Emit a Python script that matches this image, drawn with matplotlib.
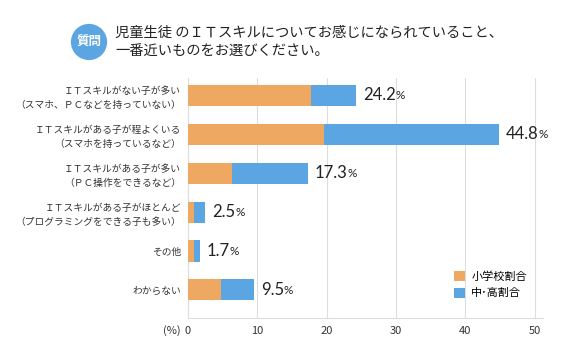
import matplotlib
matplotlib.use("Agg")
import matplotlib.pyplot as plt
import numpy as np

plt.rcParams['font.family'] = ['Noto Sans CJK JP', 'DejaVu Sans']

# データ
categories = [
    "ＩＴスキルがない子が多い\n（スマホ、ＰＣなどを持っていない）",
    "ＩＴスキルがある子が程よくいる\n（スマホを持っているなど）",
    "ＩＴスキルがある子が多い\n（ＰＣ操作をできるなど）",
    "ＩＴスキルがある子がほとんど\n（プログラミングをできる子も多い）",
    "その他",
    "わからない",
]
elementary = [17.7, 19.6, 6.3, 0.9, 0.8, 4.7]
middle_high = [6.5, 25.2, 11.0, 1.6, 0.9, 4.8]
totals = ["24.2", "44.8", "17.3", "2.5", "1.7", "9.5"]
series_names = ["小学校割合", "中･高割合"]

ORANGE = "#EFA862"
BLUE = "#5BA6E2"

fig = plt.figure(figsize=(5.7, 3.58), dpi=100)
ax = fig.add_axes([188/570, 1-318/358, (543-188)/570, (318-78)/358])

y = np.arange(len(categories))
ax.barh(y, elementary, height=0.54, color=ORANGE, label=series_names[0], zorder=3)
ax.barh(y, middle_high, left=elementary, height=0.54, color=BLUE, label=series_names[1], zorder=3)

for i in range(len(categories)):
    end = elementary[i] + middle_high[i]
    t = ax.annotate(totals[i], xy=(end, i), xytext=(5, 0), textcoords="offset points",
                    va="center", ha="left", fontsize=12, family="Lato", color="#222222")
    ax.annotate("%", xy=(1, 0.12), xycoords=t, va="bottom", ha="left",
                fontsize=8.5, family="Lato", color="#222222")

ax.set_xlim(0, 51.2)
ax.set_ylim(5.72, -0.44)
ax.set_xticks([0, 10, 20, 30, 40, 50])
ax.set_yticks(y)
ax.set_yticklabels(categories, fontsize=7, color="#333333", linespacing=1.5)
ax.tick_params(axis="y", length=0, pad=5)
ax.tick_params(axis="x", length=0, pad=6, labelsize=8, labelcolor="#333333")
ax.grid(axis="x", color="#DDDDDD", linewidth=0.8, zorder=0)
for s in ["top", "right"]:
    ax.spines[s].set_visible(False)
ax.spines["left"].set_color("#DDDDDD")
ax.spines["bottom"].set_color("#DDDDDD")
ax.text(-0.02, -0.030, "(%)", transform=ax.transAxes, ha="right", va="top",
        fontsize=8, color="#333333")

ax.legend(loc="lower left", bbox_to_anchor=(0.72, 0.04), frameon=False, fontsize=8,
          handlelength=1.0, handleheight=1.0, handletextpad=0.6, labelspacing=0.5)

# タイトル
fig.text(89/570, 1-42/358, "質問", ha="center", va="center", color="white",
         fontsize=9, fontweight="bold",
         bbox=dict(boxstyle="circle,pad=0.45", fc=BLUE, ec="none"))
fig.text(115/570, 1-33/358, "児童生徒 のＩＴスキルについてお感じになられていること、",
         ha="left", va="center", fontsize=10.3, color="#222222")
fig.text(115/570, 1-52/358, "一番近いものをお選びください。",
         ha="left", va="center", fontsize=10.3, color="#222222")

fig.savefig("out.png", dpi=100, facecolor="white")
